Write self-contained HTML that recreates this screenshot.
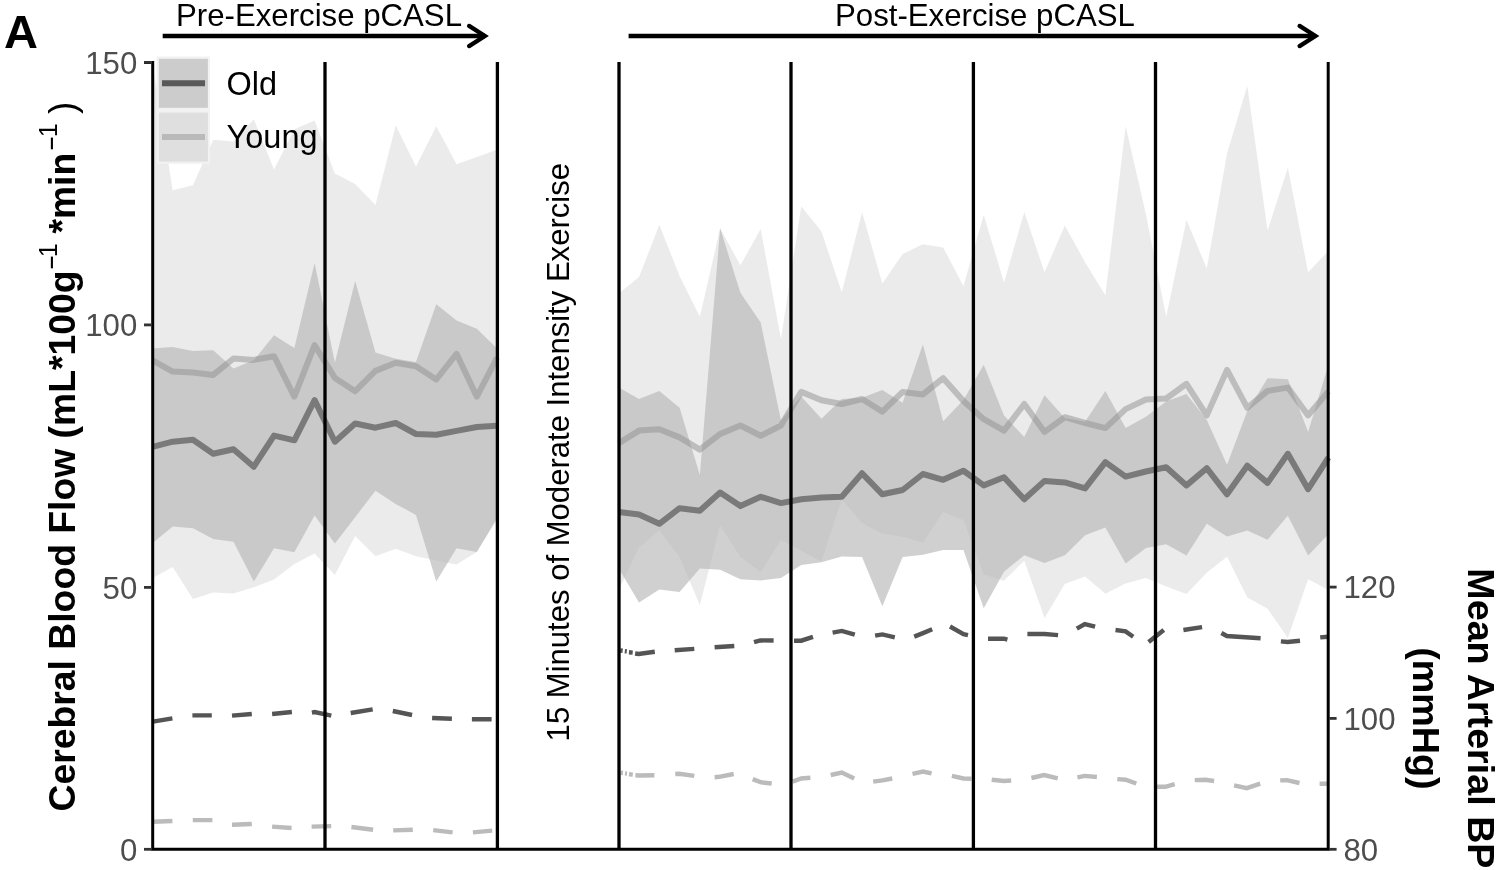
<!DOCTYPE html>
<html><head><meta charset="utf-8"><style>
html,body{margin:0;padding:0;background:#fff;}
body{width:1498px;height:870px;overflow:hidden;}
svg{display:block;font-family:"Liberation Sans",sans-serif;filter:grayscale(1);}
</style></head><body>
<svg width="1498" height="870" viewBox="0 0 1498 870">
<rect width="1498" height="870" fill="#fff"/>
<path d="M152.4,62 L172.68,190.2 L192.95,185.2 L213.23,139.7 L233.5,141.5 L253.78,119.2 L274.06,169.6 L294.33,129.2 L314.61,120.6 L334.88,173.6 L355.16,184.1 L375.44,205.1 L395.71,125.2 L415.99,166.6 L436.26,126.2 L456.54,164.3 L476.82,157 L497.09,149.5 L497.09,519.5 L476.82,552 L456.54,564.4 L436.26,560.4 L415.99,556.3 L395.71,548.8 L375.44,556.3 L355.16,535.9 L334.88,575 L314.61,553.5 L294.33,564 L274.06,579.6 L253.78,587.3 L233.5,593.6 L213.23,592.5 L192.95,599 L172.68,567 L152.4,578.3 Z" fill="#000" fill-opacity="0.0784"/>
<path d="M618.75,293.6 L639.02,277.1 L659.3,224.8 L679.58,275.9 L699.85,316.8 L720.13,228.3 L740.4,265.2 L760.68,229.1 L780.96,339.1 L801.23,206.3 L821.51,231.6 L841.78,292.3 L862.06,212.1 L882.34,283.5 L902.61,253.9 L922.89,244.3 L943.16,247.5 L963.44,286 L983.72,214.7 L1003.99,282.4 L1024.27,212.1 L1044.54,272.3 L1064.82,225.5 L1085.1,262.2 L1105.37,295.3 L1125.65,126.1 L1145.92,214.2 L1166.2,316.8 L1186.48,219.7 L1206.75,268.5 L1227.03,153.5 L1247.3,85.7 L1267.58,230.6 L1287.86,167.4 L1308.13,272.3 L1328.41,250.8 L1328.41,589.9 L1308.13,579.3 L1287.86,638.1 L1267.58,608.7 L1247.3,597.6 L1227.03,556.8 L1206.75,572.8 L1186.48,594 L1166.2,586.6 L1145.92,578 L1125.65,583.4 L1105.37,593.8 L1085.1,576.6 L1064.82,584.1 L1044.54,617.9 L1024.27,560.7 L1003.99,580.7 L983.72,574.5 L963.44,520.3 L943.16,512.1 L922.89,542.7 L902.61,536.8 L882.34,533.8 L862.06,523.3 L841.78,499.4 L821.51,561.4 L801.23,551 L780.96,540 L760.68,572.3 L740.4,557.1 L720.13,525.4 L699.85,605.3 L679.58,557.1 L659.3,530.4 L639.02,547.6 L618.75,590 Z" fill="#000" fill-opacity="0.0784"/>
<path d="M152.4,348.6 L172.68,347 L192.95,351 L213.23,350.3 L233.5,368.5 L253.78,360.3 L274.06,335.3 L294.33,348 L314.61,262.9 L334.88,362.7 L355.16,280.9 L375.44,352.6 L395.71,358.7 L415.99,362 L436.26,304.3 L456.54,320.6 L476.82,328.8 L497.09,348.6 L497.09,518 L476.82,552 L456.54,548.3 L436.26,581.5 L415.99,514.9 L395.71,503.9 L375.44,490.8 L355.16,517.2 L334.88,543.6 L314.61,515.6 L294.33,552.3 L274.06,548.3 L253.78,581.5 L233.5,541.8 L213.23,539 L192.95,528.2 L172.68,526.6 L152.4,543.3 Z" fill="#b7b7b7" fill-opacity="0.65"/>
<path d="M618.75,387.6 L639.02,399 L659.3,390.9 L679.58,407.8 L699.85,474.9 L720.13,228.3 L740.4,292.8 L760.68,322.6 L780.96,420.5 L801.23,396.5 L821.51,418.7 L841.78,399 L862.06,397.7 L882.34,390.1 L902.61,402.8 L922.89,344.6 L943.16,421.2 L963.44,400 L983.72,364.8 L1003.99,415.4 L1024.27,436.9 L1044.54,395.2 L1064.82,418 L1085.1,421.7 L1105.37,390.9 L1125.65,428.1 L1145.92,416.7 L1166.2,401.5 L1186.48,393.9 L1206.75,420 L1227.03,464.7 L1247.3,411 L1267.58,378.2 L1287.86,379.3 L1308.13,431.9 L1328.41,364.8 L1328.41,534.2 L1308.13,555.4 L1287.86,515.8 L1267.58,539.7 L1247.3,530.5 L1227.03,536.6 L1206.75,523.8 L1186.48,555.4 L1166.2,544.3 L1145.92,548 L1125.65,563.4 L1105.37,527.6 L1085.1,535.2 L1064.82,555.2 L1044.54,563 L1024.27,555.2 L1003.99,571.7 L983.72,608.3 L963.44,549.9 L943.16,549.9 L922.89,554.7 L902.61,556.9 L882.34,606.2 L862.06,556.9 L841.78,556.5 L821.51,562.2 L801.23,565.1 L780.96,578 L760.68,580.5 L740.4,579.3 L720.13,569.8 L699.85,568.5 L679.58,592 L659.3,589.4 L639.02,602.4 L618.75,568.5 Z" fill="#b7b7b7" fill-opacity="0.65"/>
<path d="M152.4,360.4 L172.68,371.6 L192.95,372.5 L213.23,374.9 L233.5,358.5 L253.78,359.9 L274.06,356.2 L294.33,396.6 L314.61,345.2 L334.88,377.9 L355.16,391.2 L375.44,370.9 L395.71,362.7 L415.99,366.2 L436.26,379.5 L456.54,353.8 L476.82,396.6 L497.09,357.6" fill="none" stroke="#8f8f8f" stroke-opacity="0.5" stroke-width="6" stroke-linejoin="round"/>
<path d="M152.4,446.8 L172.68,441.7 L192.95,439.8 L213.23,453.8 L233.5,449.2 L253.78,466.7 L274.06,435.6 L294.33,440.3 L314.61,400.1 L334.88,441.7 L355.16,423.5 L375.44,427.7 L395.71,423 L415.99,434 L436.26,434.7 L456.54,430.9 L476.82,427 L497.09,425.8" fill="none" stroke="#7a7a7a" stroke-width="6" stroke-linejoin="round"/>
<path d="M618.75,443.2 L639.02,430.6 L659.3,429.3 L679.58,437.4 L699.85,449.6 L720.13,433.9 L740.4,425.5 L760.68,435.7 L780.96,425.5 L801.23,391.9 L821.51,400.2 L841.78,404 L862.06,399 L882.34,411.6 L902.61,391.9 L922.89,394.4 L943.16,378.2 L963.44,401 L983.72,419.2 L1003.99,430.6 L1024.27,404 L1044.54,431.9 L1064.82,417.2 L1085.1,423 L1105.37,428.1 L1125.65,409.1 L1145.92,399.5 L1166.2,398.5 L1186.48,383.8 L1206.75,415.4 L1227.03,369.9 L1247.3,407.8 L1267.58,390.9 L1287.86,387.6 L1308.13,415.4 L1328.41,391.4" fill="none" stroke="#8f8f8f" stroke-opacity="0.5" stroke-width="6" stroke-linejoin="round"/>
<path d="M618.75,512 L639.02,514.5 L659.3,523.8 L679.58,508.2 L699.85,510.7 L720.13,492.5 L740.4,506.1 L760.68,496.8 L780.96,503.1 L801.23,499.3 L821.51,497.5 L841.78,496.8 L862.06,473.3 L882.34,494.3 L902.61,490 L922.89,474 L943.16,479.8 L963.44,470.7 L983.72,485.4 L1003.99,477.3 L1024.27,499.3 L1044.54,480.9 L1064.82,482.4 L1085.1,488.4 L1105.37,462.1 L1125.65,476.6 L1145.92,471.5 L1166.2,467.2 L1186.48,485.4 L1206.75,468.2 L1227.03,494.3 L1247.3,465.7 L1267.58,482.9 L1287.86,453.8 L1308.13,489.2 L1328.41,457.6" fill="none" stroke="#7a7a7a" stroke-width="6" stroke-linejoin="round"/>
<path d="M153,721.6 L172.4,718.4 M192.4,715.4 L211.8,715.4 M232,715.6 L251.8,714 M272.1,714 L291.9,712 M311.9,712.6 L314.6,712.1 L331.3,715.6 M350.7,713 L372.7,709.4 M392.8,711 L412.1,715 M432.1,718 L451.9,718.8 M471.9,719.3 L491.6,719.3 M620.3,650.5 L622.7,650.8 M624.8,651.2 L626.8,651.4 M628.9,652.3 L632.7,652.6 M635.1,653.5 L638.6,654 L654.8,651.7 M674.7,650.2 L694.3,648.9 M714.6,647.3 L734.3,646 M754,642.2 L760.3,640.4 L773.6,640.5 M794,640.7 L801.2,640.7 L813,636.9 M832.6,632.6 L841.8,630.9 L854.8,634.7 M875.1,635.7 L882.4,634.4 L894.8,637.3 M914.2,636.6 L923,633.1 L932.2,629.3 M950,626.5 L963.5,634.1 L968,635.1 M988,638.7 L1004.1,638.7 L1007.4,639.6 M1027.4,634 L1044.5,634 L1058.1,635.1 M1076.8,628.7 L1084.8,624 L1095.1,626.7 M1115.5,630 L1125.6,631.4 L1133.2,636.7 M1148.6,642 L1163.8,630 M1183.4,630 L1202.1,627.1 M1221.4,633 L1226.8,636 L1260.6,638.3 M1280.9,641.4 L1287.5,642 L1300,640.7 M1320.2,637.4 L1328,636.7" fill="none" stroke="#555" stroke-width="4.4"/>
<path d="M153,821.7 L172.4,821 M192.8,820.1 L212.4,820.1 M232,824.8 L251.8,824 M272.1,826.6 L291.6,828 M311.6,826.6 L331.2,826.1 M351.4,827 L373.1,829.7 M393.2,830.4 L412.8,829.7 M433.2,830.1 L452.6,832.4 M472.9,832.4 L492.2,830.6 M620.8,772.8 L623,773 M625,773.4 L627,773.6 M629,774.2 L632.8,774.6 M635.4,775.3 L639.2,775.5 L654.4,775.3 M675.3,774 L679.1,773.8 L694.3,775.9 M714.6,777.2 L719.1,776.8 L733.7,774 M752.7,779.1 L761,782.3 L771.7,783.5 M792.7,781.6 L801.2,778.5 L810.4,777.8 M830.7,775 L841.8,772.5 L854.2,778.5 M873.2,781.6 L882.4,780.4 L892.3,778.5 M912.5,773.8 L923,771.5 L931.6,773.4 M951.9,775.9 L963.5,778.5 L971.4,778.8 M991.7,779.7 L1004,781 L1011.2,780.5 M1031.4,778 L1044.1,775 L1057.7,778.4 M1077.4,777.4 L1084.8,775.9 L1096.9,777 M1117.3,779.1 L1125.6,779.7 L1136.3,783.5 M1155.5,786.8 L1165.4,786.8 L1174.7,784.1 M1194.7,780.1 L1205.4,779.7 L1214.1,781 M1234.1,785.4 L1246.8,788.1 L1260.2,783.7 M1280.2,780.4 L1286.9,780.1 L1299.5,783 M1319.6,783.7 L1328,783.7" fill="none" stroke="#bbb" stroke-width="4.4"/>
<line x1="325" y1="62" x2="325" y2="849" stroke="#000" stroke-width="3.3"/>
<line x1="497.4" y1="62" x2="497.4" y2="849" stroke="#000" stroke-width="3.3"/>
<line x1="619" y1="62" x2="619" y2="849" stroke="#000" stroke-width="3.3"/>
<line x1="791" y1="62" x2="791" y2="849" stroke="#000" stroke-width="3.3"/>
<line x1="973.4" y1="62" x2="973.4" y2="849" stroke="#000" stroke-width="3.3"/>
<line x1="1155.5" y1="62" x2="1155.5" y2="849" stroke="#000" stroke-width="3.3"/>
<path d="M144,62.4 L152.7,62.4 L152.7,849.3 L1328.2,849.3 L1328.2,62" fill="none" stroke="#000" stroke-width="3"/>
<line x1="144" y1="62.4" x2="152" y2="62.4" stroke="#333" stroke-width="2.8"/>
<text x="137.3" y="73.6" text-anchor="end" font-size="31.2" fill="#4d4d4d">150</text>
<line x1="144" y1="324.9" x2="152" y2="324.9" stroke="#333" stroke-width="2.8"/>
<text x="137.3" y="336.09999999999997" text-anchor="end" font-size="31.2" fill="#4d4d4d">100</text>
<line x1="144" y1="587.4" x2="152" y2="587.4" stroke="#333" stroke-width="2.8"/>
<text x="137.3" y="598.6" text-anchor="end" font-size="31.2" fill="#4d4d4d">50</text>
<line x1="144" y1="849.3" x2="152" y2="849.3" stroke="#333" stroke-width="2.8"/>
<text x="137.3" y="860.5" text-anchor="end" font-size="31.2" fill="#4d4d4d">0</text>
<line x1="1329" y1="587.1" x2="1336.6" y2="587.1" stroke="#333" stroke-width="2.8"/>
<text x="1343.5" y="598.3000000000001" font-size="31.2" fill="#4d4d4d">120</text>
<line x1="1329" y1="718.4" x2="1336.6" y2="718.4" stroke="#333" stroke-width="2.8"/>
<text x="1343.5" y="729.6" font-size="31.2" fill="#4d4d4d">100</text>
<line x1="1329" y1="849.3" x2="1336.6" y2="849.3" stroke="#333" stroke-width="2.8"/>
<text x="1343.5" y="860.5" font-size="31.2" fill="#4d4d4d">80</text>
<rect x="156.6" y="56.5" width="53.3" height="107.3" fill="#f2f2f2"/>
<rect x="158.9" y="58.8" width="49" height="49" fill="#b7b7b7" fill-opacity="0.65"/>
<rect x="158.9" y="112.6" width="49" height="49" fill="#000" fill-opacity="0.0784"/>
<line x1="162" y1="83.2" x2="205" y2="83.2" stroke="#595959" stroke-width="6"/>
<line x1="162" y1="137" x2="205" y2="137" stroke="#b9b9b9" stroke-width="6"/>
<text x="226.6" y="94.5" font-size="32.5" fill="#000">Old</text>
<text x="226.6" y="148.3" font-size="32.5" fill="#000">Young</text>
<text x="176" y="26.3" font-size="31.2" fill="#000">Pre-Exercise pCASL</text>
<text x="835" y="26.3" font-size="31.2" fill="#000">Post-Exercise pCASL</text>
<line x1="162.7" y1="36" x2="484.9" y2="36" stroke="#000" stroke-width="4.3"/>
<path d="M469.09999999999997,25.9 L484.9,36 L469.09999999999997,46.1" fill="none" stroke="#000" stroke-width="4.3" stroke-linejoin="miter" stroke-miterlimit="10" stroke-linecap="round"/>
<line x1="628.6" y1="36" x2="1315.4" y2="36" stroke="#000" stroke-width="4.3"/>
<path d="M1299.6000000000001,25.9 L1315.4,36 L1299.6000000000001,46.1" fill="none" stroke="#000" stroke-width="4.3" stroke-linejoin="miter" stroke-miterlimit="10" stroke-linecap="round"/>
<text x="4" y="47.6" font-size="47" font-weight="bold" fill="#000">A</text>
<text transform="translate(568.8,741.4) rotate(-90)" font-size="31.07" fill="#000">15 Minutes of Moderate Intensity Exercise</text>
<text transform="translate(75.3,811.4) rotate(-90)" font-size="37.3" font-weight="bold" fill="#000">Cerebral Blood Flow (mL*100g</text>
<line x1="51.9" y1="268.3" x2="51.9" y2="256.6" stroke="#000" stroke-width="2.1"/>
<text transform="translate(57.1,257.2) rotate(-90)" font-size="25" fill="#000">1</text>
<text transform="translate(75.3,233.6) rotate(-90)" font-size="37.3" font-weight="bold" fill="#000">*min</text>
<line x1="51.9" y1="149.3" x2="51.9" y2="137.6" stroke="#000" stroke-width="2.1"/>
<text transform="translate(57.1,137.2) rotate(-90)" font-size="25" fill="#000">1</text>
<text transform="translate(75.3,114.0) rotate(-90)" font-size="37.3" fill="#000">)</text>
<text transform="translate(1467.7,718.4) rotate(90)" text-anchor="middle" font-size="37.7" font-weight="bold" fill="#000">Mean Arterial BP</text>
<text transform="translate(1413.2,718.4) rotate(90)" text-anchor="middle" font-size="37.7" font-weight="bold" fill="#000">(mmHg)</text>
</svg></body></html>
